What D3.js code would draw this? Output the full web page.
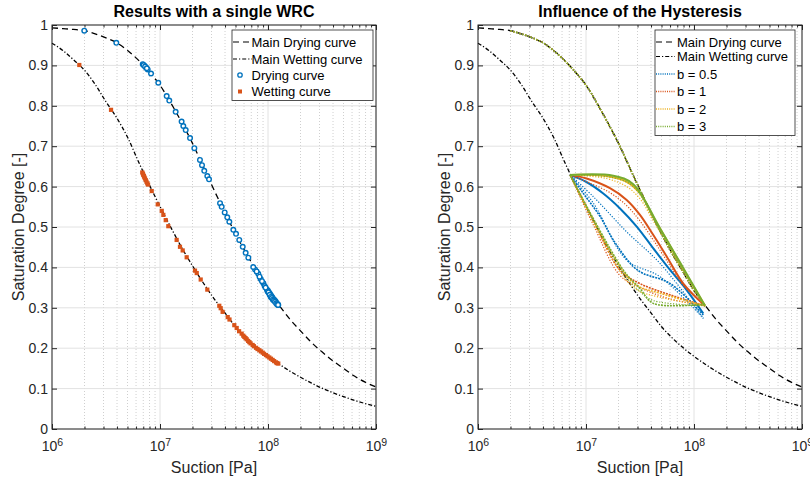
<!DOCTYPE html>
<html>
<head>
<meta charset="utf-8">
<script src="https://cdn.jsdelivr.net/npm/d3@7"></script>
<style>
  body { margin: 0; background: #fff; }
  text { font-family: "Liberation Sans", Arial, Helvetica, sans-serif; }
</style>
</head>
<body>
<svg id="chart" width="810" height="482"></svg>
<script>
// ---- data ----
const mainSuction = [1e6, 1.26e6, 1.58e6, 2e6, 2.51e6, 3.16e6, 3.98e6, 5.01e6, 6.31e6, 7.94e6,
  1e7, 1.26e7, 1.58e7, 2e7, 2.51e7, 3.16e7, 3.98e7, 5.01e7, 6.31e7, 7.94e7,
  1e8, 1.26e8, 1.58e8, 2e8, 2.51e8, 3.16e8, 3.98e8, 5.01e8, 6.31e8, 7.94e8, 1e9];
const mainDrying = [0.993, 0.991, 0.989, 0.986, 0.978, 0.968, 0.956, 0.937, 0.913, 0.884,
  0.851, 0.807, 0.760, 0.707, 0.650, 0.592, 0.536, 0.483, 0.434, 0.388,
  0.343, 0.307, 0.273, 0.243, 0.215, 0.191, 0.169, 0.150, 0.131, 0.116, 0.104];
const mainWetting = [0.955, 0.937, 0.914, 0.888, 0.853, 0.810, 0.770, 0.722, 0.662, 0.605,
  0.551, 0.499, 0.450, 0.404, 0.362, 0.323, 0.288, 0.253, 0.225, 0.201,
  0.180, 0.161, 0.144, 0.128, 0.114, 0.101, 0.090, 0.080, 0.071, 0.063, 0.056];

const dryPtSuction = [1.99e6, 3.94e6, 6.92e6, 7.16e6, 7.41e6, 7.69e6, 8.26e6, 9.64e6, 1.153e7, 1.219e7,
  1.396e7, 1.585e7, 1.644e7, 1.73e7, 1.897e7, 2.08e7, 2.344e7, 2.449e7, 2.57e7, 2.742e7,
  2.844e7, 3.597e7, 3.724e7, 3.972e7, 4.198e7, 4.385e7, 4.775e7, 5.058e7, 5.42e7, 5.834e7,
  6.209e7, 6.577e7, 7.586e7, 8.128e7, 8.551e7, 9.057e7, 9.77e7, 1e8, 1.023e8, 1.047e8,
  1.072e8, 1.096e8, 1.122e8, 1.148e8, 1.175e8, 1.202e8, 1.23e8, 1.245e8,
  9.9e7, 1.01e8, 1.035e8, 1.06e8, 1.085e8, 1.11e8, 1.135e8, 1.16e8, 1.19e8, 1.215e8,
  1.24e8, 9.3e7, 9.5e7, 8.8e7, 8.35e7, 7.85e7, 7.3e7, 7.05e6, 7.28e6, 7.55e6];
const dryPtSat = [0.986, 0.956, 0.903, 0.899, 0.895, 0.890, 0.880, 0.857, 0.824, 0.813,
  0.785, 0.761, 0.750, 0.740, 0.720, 0.695, 0.666, 0.653, 0.639, 0.626,
  0.618, 0.559, 0.550, 0.536, 0.524, 0.513, 0.493, 0.483, 0.468, 0.451,
  0.436, 0.424, 0.395, 0.384, 0.371, 0.361, 0.345, 0.342, 0.338, 0.334,
  0.330, 0.326, 0.322, 0.319, 0.316, 0.312, 0.309, 0.307,
  0.341, 0.338, 0.332, 0.327, 0.324, 0.320, 0.318, 0.315, 0.311, 0.308,
  0.307, 0.354, 0.350, 0.366, 0.377, 0.390, 0.401, 0.901, 0.897, 0.893];

const wetPtSuction = [1.79e6, 3.52e6, 6.85e6, 7.0e6, 7.16e6, 7.38e6, 7.62e6, 8.38e6, 9.53e6, 1.038e7,
  1.074e7, 1.13e7, 1.194e7, 1.426e7, 1.531e7, 1.622e7, 1.766e7, 2.109e7, 2.188e7, 2.382e7,
  2.742e7, 3.54e7, 3.648e7, 4.236e7, 4.875e7, 5.129e7, 5.702e7, 6.039e7, 6.353e7, 6.714e7,
  7.211e7, 7.745e7, 8.318e7, 8.933e7, 9.572e7, 1.028e8, 1.104e8, 1.186e8, 1.245e8,
  5.9e7, 6.2e7, 6.55e7, 6.9e7, 7.4e7, 8.0e7, 8.6e7, 9.2e7, 9.9e7, 1.065e8,
  1.14e8, 1.21e8, 5.4e7, 4.4e7, 3.8e7, 6.95e6, 7.1e6, 7.27e6, 7.5e6, 7.75e6];
const wetPtSat = [0.901, 0.790, 0.635, 0.629, 0.623, 0.616, 0.608, 0.589, 0.556, 0.540,
  0.530, 0.517, 0.502, 0.468, 0.451, 0.442, 0.425, 0.392, 0.386, 0.370,
  0.345, 0.305, 0.299, 0.277, 0.257, 0.250, 0.236, 0.228, 0.222, 0.215,
  0.208, 0.201, 0.195, 0.189, 0.183, 0.177, 0.171, 0.165, 0.162,
  0.231, 0.225, 0.218, 0.212, 0.205, 0.198, 0.192, 0.186, 0.180, 0.174,
  0.168, 0.163, 0.242, 0.271, 0.290, 0.632, 0.626, 0.620, 0.612, 0.605];

// first drying of every test, along the main drying curve
const firstDrying = [[2e6, 0.986], [3e6, 0.971], [4e6, 0.956], [5e6, 0.937], [7e6, 0.900],
  [1e7, 0.851], [1.4e7, 0.785], [2e7, 0.707], [2.8e7, 0.622], [4e7, 0.535],
  [6e7, 0.443], [8e7, 0.387], [1e8, 0.343], [1.245e8, 0.307]];

const hystLabels = ['b = 0.5', 'b = 1', 'b = 2', 'b = 3'];
// scanning branches (drying 1, wetting 1, drying 2, wetting 2) for each b
const hystBranches = [
  [
    [[7.11e6, 0.629], [1e7, 0.612], [1.445e7, 0.583], [2.065e7, 0.546], [2.95e7, 0.501], [4.2e7, 0.447], [6.03e7, 0.393], [8.55e7, 0.344], [1.22e8, 0.286]],
    [[1.22e8, 0.282], [6.03e7, 0.36], [3.4e7, 0.385], [2.74e7, 0.402], [1.79e7, 0.468], [1.35e7, 0.526], [9.46e6, 0.583], [7.11e6, 0.629]],
    [[7.11e6, 0.629], [1.17e7, 0.575], [2.38e7, 0.488], [4.84e7, 0.41], [1.22e8, 0.274]],
    [[1.22e8, 0.274], [4.84e7, 0.377], [2.38e7, 0.418], [1.17e7, 0.559], [7.11e6, 0.629]]
  ],
  [
    [[7.11e6, 0.629], [1.014e7, 0.62], [1.667e7, 0.596], [2.38e7, 0.567], [3.16e7, 0.530], [4.2e7, 0.48], [5.585e7, 0.427], [7.96e7, 0.36], [1.265e8, 0.305]],
    [[1.265e8, 0.305], [6e7, 0.332], [3.16e7, 0.36], [2.065e7, 0.393], [1.17e7, 0.517], [7.11e6, 0.629]],
    [[7.11e6, 0.629], [1.014e7, 0.612], [1.667e7, 0.585], [2.38e7, 0.553], [3.16e7, 0.515], [4.2e7, 0.468], [5.585e7, 0.417], [7.96e7, 0.356], [1.265e8, 0.305]],
    [[1.265e8, 0.305], [6e7, 0.322], [3.16e7, 0.35], [2.065e7, 0.38], [1.17e7, 0.505], [7.11e6, 0.629]]
  ],
  [
    [[7.11e6, 0.629], [1.55e7, 0.626], [2.38e7, 0.612], [3.16e7, 0.583], [4.2e7, 0.525], [5.585e7, 0.468], [7.41e7, 0.41], [1.265e8, 0.305]],
    [[1.265e8, 0.305], [4.84e7, 0.336], [2.94e7, 0.356], [2.065e7, 0.402], [7.11e6, 0.629]],
    [[7.11e6, 0.629], [1.55e7, 0.62], [2.38e7, 0.60], [3.16e7, 0.57], [4.2e7, 0.515], [5.585e7, 0.46], [7.41e7, 0.405], [1.265e8, 0.305]],
    [[1.265e8, 0.305], [4.84e7, 0.326], [2.94e7, 0.345], [2.065e7, 0.39], [7.11e6, 0.629]]
  ],
  [
    [[7.11e6, 0.629], [1.79e7, 0.627], [2.74e7, 0.606], [4.84e7, 0.497], [1.265e8, 0.305]],
    [[1.265e8, 0.309], [4.2e7, 0.311], [3.16e7, 0.348], [2.22e7, 0.393], [7.11e6, 0.629]],
    [[7.11e6, 0.629], [1.79e7, 0.622], [2.74e7, 0.60], [4.84e7, 0.49], [1.265e8, 0.305]],
    [[1.265e8, 0.305], [4.2e7, 0.318], [3.16e7, 0.34], [2.22e7, 0.385], [7.11e6, 0.629]]
  ]
];

const xTicks = [1e6, 1e7, 1e8, 1e9];
const yTicks = [0, 0.1, 0.2, 0.3, 0.4, 0.5, 0.6, 0.7, 0.8, 0.9, 1];

// ---- drawing ----
const colors = ['#0072BD', '#D95319', '#EDB120', '#77AC30'];
const axisColor = '#262626';
const yTop = 25, yBottom = 429;
const svg = d3.select('#chart');

function panel(x0, x1, title) {
  const x = d3.scaleLog().domain([1e6, 1e9]).range([x0, x1]);
  const y = d3.scaleLinear().domain([0, 1]).range([yBottom, yTop]);
  const g = svg.append('g');
  const minor = x.ticks().filter(v => !xTicks.includes(v));

  // grid
  g.selectAll('.minor').data(minor).join('line')
    .attr('x1', d => x(d)).attr('x2', d => x(d)).attr('y1', yTop).attr('y2', yBottom)
    .attr('stroke', '#cfcfcf').attr('stroke-dasharray', '1,2');
  g.selectAll('.xgrid').data(xTicks).join('line')
    .attr('x1', d => x(d)).attr('x2', d => x(d)).attr('y1', yTop).attr('y2', yBottom)
    .attr('stroke', '#e2e2e2');
  g.selectAll('.ygrid').data(yTicks).join('line')
    .attr('x1', x0).attr('x2', x1).attr('y1', d => y(d)).attr('y2', d => y(d))
    .attr('stroke', '#e2e2e2');

  const plot = g.append('g');

  // axes
  const axes = g.append('g');
  const style = a => {
    a.select('.domain').remove();
    a.selectAll('line').attr('stroke', axisColor);
    a.attr('font-family', null).attr('font-size', 14);
    a.selectAll('text').attr('fill', axisColor);
  };
  axes.append('g').attr('transform', `translate(0,${yBottom})`)
    .call(d3.axisBottom(x).tickValues(xTicks).tickSizeInner(-5).tickSizeOuter(0).tickPadding(12).tickFormat(''))
    .call(style)
    .call(a => a.selectAll('.tick text').each(function (d) {
      const t = d3.select(this).attr('dy', '0.71em');
      t.append('tspan').text('10');
      t.append('tspan').attr('dy', '-0.5em').attr('font-size', 10.5).text(Math.round(Math.log10(d)));
    }));
  axes.append('g').attr('transform', `translate(0,${yBottom})`)
    .call(d3.axisBottom(x).tickValues(minor).tickSizeInner(-2.5).tickSizeOuter(0).tickFormat(''))
    .call(style);
  axes.append('g').attr('transform', `translate(0,${yTop})`)
    .call(d3.axisTop(x).tickValues(xTicks).tickSizeInner(-5).tickSizeOuter(0).tickFormat(''))
    .call(style);
  axes.append('g').attr('transform', `translate(0,${yTop})`)
    .call(d3.axisTop(x).tickValues(minor).tickSizeInner(-2.5).tickSizeOuter(0).tickFormat(''))
    .call(style);
  axes.append('g').attr('transform', `translate(${x0},0)`)
    .call(d3.axisLeft(y).tickValues(yTicks).tickSizeInner(-5).tickSizeOuter(0).tickPadding(4)
      .tickFormat(d => String(+d.toFixed(1))))
    .call(style);
  axes.append('g').attr('transform', `translate(${x1},0)`)
    .call(d3.axisRight(y).tickValues(yTicks).tickSizeInner(-5).tickSizeOuter(0).tickFormat(''))
    .call(style);
  axes.append('rect').attr('x', x0).attr('y', yTop).attr('width', x1 - x0).attr('height', yBottom - yTop)
    .attr('fill', 'none').attr('stroke', axisColor).attr('stroke-width', 1);

  // labels
  axes.append('text').attr('x', (x0 + x1) / 2).attr('y', 17).attr('text-anchor', 'middle')
    .attr('font-size', 16).attr('font-weight', 'bold').attr('fill', '#000').text(title);
  axes.append('text').attr('x', (x0 + x1) / 2).attr('y', 473).attr('text-anchor', 'middle')
    .attr('font-size', 16).attr('fill', axisColor).text('Suction [Pa]');
  axes.append('text').attr('transform', `translate(${x0 - 28},${(yTop + yBottom) / 2}) rotate(-90)`)
    .attr('text-anchor', 'middle').attr('font-size', 16).attr('fill', axisColor).text('Saturation Degree [-]');

  return { g, plot, x, y };
}

function mainCurves(p) {
  const line = d3.line().x((d, i) => p.x(mainSuction[i])).y(d => p.y(d)).curve(d3.curveMonotoneX);
  p.plot.append('path').attr('d', line(mainDrying)).attr('fill', 'none')
    .attr('stroke', '#000').attr('stroke-width', 1.3).attr('stroke-dasharray', '6,4');
  p.plot.append('path').attr('d', line(mainWetting)).attr('fill', 'none')
    .attr('stroke', '#000').attr('stroke-width', 1.3).attr('stroke-dasharray', '4,2,1.2,2');
}

function legend(g, x, y, w, items) {
  const box = g.append('rect').attr('x', x).attr('y', y).attr('width', w)
    .attr('fill', '#fff').attr('stroke', axisColor).attr('stroke-width', 0.8);
  let cy = y + 12;
  items.forEach(it => {
    const row = g.append('g').attr('transform', `translate(${x},${cy})`);
    if (it.type === 'line') {
      row.append('line').attr('x1', 1).attr('x2', 20).attr('stroke', it.color)
        .attr('stroke-width', it.width).attr('stroke-dasharray', it.dash);
    } else if (it.type === 'circle') {
      row.append('circle').attr('cx', 8).attr('r', 2.2).attr('fill', '#fff')
        .attr('stroke', it.color).attr('stroke-width', 1.3);
    } else {
      row.append('rect').attr('x', 6).attr('y', -2).attr('width', 4).attr('height', 4).attr('fill', it.color);
    }
    row.append('text').attr('x', it.tx).attr('y', 4.7).attr('font-size', 13).attr('fill', '#000').text(it.label);
    cy += it.step;
  });
  box.attr('height', cy - y - items[items.length - 1].step + 9);
}

// left panel
const L = panel(52, 376, 'Results with a single WRC');
mainCurves(L);
L.plot.selectAll('.dry').data(dryPtSuction).join('circle')
  .attr('cx', d => L.x(d)).attr('cy', (d, i) => L.y(dryPtSat[i])).attr('r', 2.3)
  .attr('fill', '#fff').attr('stroke', colors[0]).attr('stroke-width', 1.4);
L.plot.selectAll('.wet').data(wetPtSuction).join('rect')
  .attr('x', d => L.x(d) - 2.1).attr('y', (d, i) => L.y(wetPtSat[i]) - 2.1)
  .attr('width', 4.2).attr('height', 4.2).attr('fill', colors[1]);
legend(L.g, 232, 30, 141, [
  { type: 'line', color: '#000', width: 1.2, dash: '6,4', label: 'Main Drying curve', tx: 19.5, step: 17 },
  { type: 'line', color: '#000', width: 1.2, dash: '4,2,1.2,2', label: 'Main Wetting curve', tx: 19.5, step: 16 },
  { type: 'circle', color: colors[0], label: 'Drying curve', tx: 19.5, step: 16.5 },
  { type: 'square', color: colors[1], label: 'Wetting curve', tx: 19.5, step: 16.5 }
]);

// right panel
const R = panel(478, 802, 'Influence of the Hysteresis');
mainCurves(R);
const hline = d3.line().x(d => R.x(d[0])).y(d => R.y(d[1])).curve(d3.curveCatmullRom.alpha(0.5));
hystBranches.forEach((branches, k) => {
  R.plot.append('path').attr('d', hline(firstDrying)).attr('fill', 'none')
    .attr('stroke', colors[k]).attr('stroke-width', 1.6).attr('stroke-dasharray', '1.5,1.5');
  branches.forEach((b, j) => {
    R.plot.append('path').attr('d', hline(b)).attr('fill', 'none')
      .attr('stroke', colors[k])
      .attr('stroke-width', j === 0 ? 2 : j === 1 ? 1.6 : 1.2)
      .attr('stroke-dasharray', j === 0 ? null : j === 1 ? '2,1' : '1.2,1.6');
  });
});
legend(R.g, 655, 30, 140, [
  { type: 'line', color: '#000', width: 1.2, dash: '6,4', label: 'Main Drying curve', tx: 22, step: 14.5 },
  { type: 'line', color: '#000', width: 1.2, dash: '4,2,1.2,2', label: 'Main Wetting curve', tx: 22, step: 17.5 },
  ...hystLabels.map((l, k) => ({ type: 'line', color: colors[k], width: 1.3, dash: '1,1.2', label: l, tx: 22, step: 17.5 }))
]);
</script>
</body>
</html>
